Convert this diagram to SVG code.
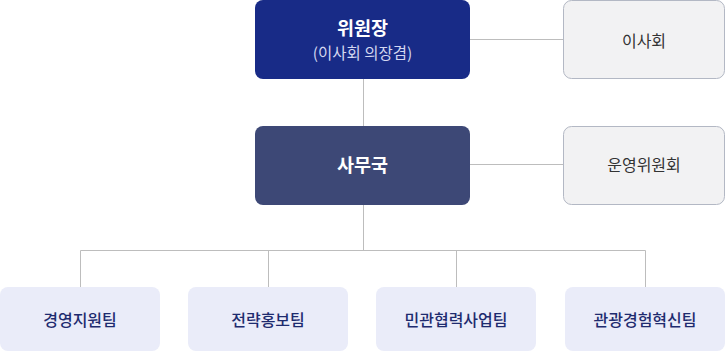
<svg xmlns="http://www.w3.org/2000/svg" width="725" height="352" viewBox="0 0 725 352">
<style>
text{font-family:"Noto Sans CJK KR","Noto Sans",sans-serif;text-anchor:middle;dominant-baseline:central}
.ln{stroke:#bdbdbd;stroke-width:1;fill:none}
.side rect{fill:#f2f2f3;stroke:#b3b8c4;stroke-width:1}
.side text{fill:#333;font-size:16px}
.team rect{fill:#eaecf9}
.team text{fill:#1e2b6f;font-size:16px;font-weight:500}
.w{fill:#fff;font-size:18.5px;font-weight:700}
</style>
<g id="connectors">
<path class="ln" d="M470 39.5H563.5M470 164.5H563.5M363.5 79V126M363.5 205V250.5M80.5 287V250.5H645.5V287M268.5 250.5V287M456.5 250.5V287"/>
</g>
<g id="chairman">
<rect x="255" y="0" width="215" height="79" rx="8" fill="#182b87"/>
<text class="w" x="362.5" y="27">위원장</text>
<text x="362.5" y="52" fill="#d3d7f0" font-size="15.5">(이사회 의장겸)</text>
</g>
<g id="board" class="side">
<rect x="563.5" y="0.5" width="161" height="78" rx="8"/>
<text x="644" y="40">이사회</text>
</g>
<g id="secretariat">
<rect x="255" y="126" width="215" height="79" rx="8" fill="#3d4876"/>
<text class="w" x="362.5" y="164">사무국</text>
</g>
<g id="committee" class="side">
<rect x="563.5" y="126.5" width="161" height="78" rx="8"/>
<text x="644" y="164">운영위원회</text>
</g>
<g id="team1" class="team">
<rect x="0" y="287" width="160" height="64" rx="8"/>
<text x="80" y="319">경영지원팀</text>
</g>
<g id="team2" class="team">
<rect x="188" y="287" width="160" height="64" rx="8"/>
<text x="268" y="319">전략홍보팀</text>
</g>
<g id="team3" class="team">
<rect x="376" y="287" width="160" height="64" rx="8"/>
<text x="456" y="319">민관협력사업팀</text>
</g>
<g id="team4" class="team">
<rect x="565" y="287" width="160" height="64" rx="8"/>
<text x="645" y="319">관광경험혁신팀</text>
</g>
</svg>
